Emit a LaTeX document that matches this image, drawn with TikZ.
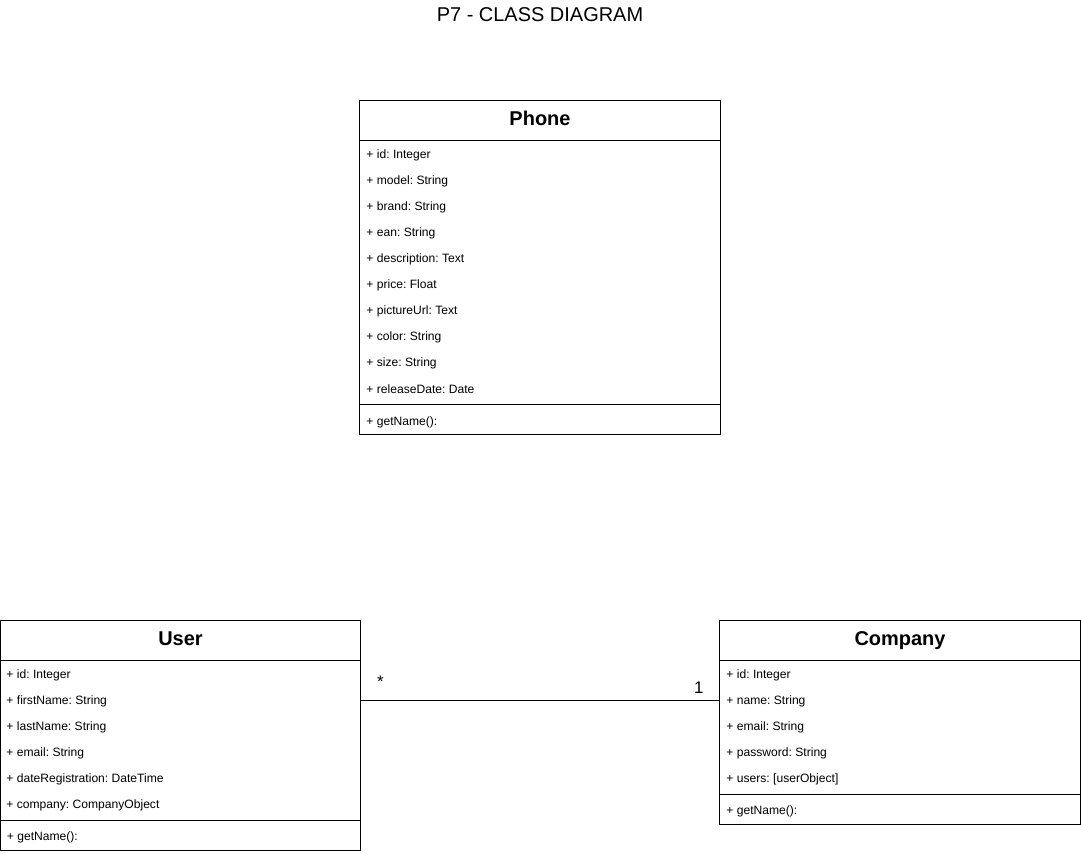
\documentclass[tikz,border=0pt]{standalone}
\usepackage{fontspec}
\setmainfont{Liberation Sans}
\usetikzlibrary{positioning}
\frenchspacing

\begin{document}
\begin{tikzpicture}[x=0.025cm,y=-0.025cm,line width=0.7pt,node distance=0.65cm,
                    classname/.style={draw,outer sep=0pt,inner sep=0pt,minimum width=9cm,
                      minimum height=1cm,text height=0.72em,text depth=0pt,
                      font=\bfseries\fontsize{14.2}{16}\selectfont},
                    compart/.style={draw,outer sep=0pt,inner sep=0pt,minimum width=9cm},
                    attr/.style={anchor=west,inner sep=0pt,font=\fontsize{8.6}{10}\selectfont},
                    mult/.style={inner sep=0pt,font=\fontsize{12}{14}\selectfont}]

  \useasboundingbox (0,0) rectangle (1081,854);
  \node[font=\fontsize{14.2}{16}\selectfont] (title) at (540,15) {P7 - CLASS DIAGRAM};

  % Phone
  \node[classname] (phone) at (540,120) {Phone};
  \node[compart,minimum height=6.6cm,below=0pt of phone] (phoneattr) {};
  \node[compart,minimum height=0.75cm,below=0pt of phoneattr] (phonemeth) {};
  \node[attr] (pid) at (366,155) {+ id: Integer};
  \node[below=of pid.west,attr] (pmodel) {+ model: String};
  \node[below=of pmodel.west,attr] (pbrand) {+ brand: String};
  \node[below=of pbrand.west,attr] (pean) {+ ean: String};
  \node[below=of pean.west,attr] (pdesc) {+ description: Text};
  \node[below=of pdesc.west,attr] (pprice) {+ price: Float};
  \node[below=of pprice.west,attr] (ppicture) {+ pictureUrl: Text};
  \node[below=of ppicture.west,attr] (pcolor) {+ color: String};
  \node[below=of pcolor.west,attr] (psize) {+ size: String};
  \node[below=of psize.west,attr] (prelease) {+ releaseDate: Date};
  \node[right=0.15cm of phonemeth.west,attr,yshift=-0.07cm] (pget) {+ getName():};

  % User
  \node[classname] (user) at (180.5,640) {User};
  \node[compart,minimum height=4cm,below=0pt of user] (userattr) {};
  \node[compart,minimum height=0.75cm,below=0pt of userattr] (usermeth) {};
  \node[attr] (uid) at (6,675) {+ id: Integer};
  \node[below=of uid.west,attr] (ufirst) {+ firstName: String};
  \node[below=of ufirst.west,attr] (ulast) {+ lastName: String};
  \node[below=of ulast.west,attr] (uemail) {+ email: String};
  \node[below=of uemail.west,attr] (udate) {+ dateRegistration: DateTime};
  \node[below=of udate.west,attr] (ucompany) {+ company: CompanyObject};
  \node[right=0.15cm of usermeth.west,attr,yshift=-0.07cm] (uget) {+ getName():};

  % Company
  \node[classname] (company) at (900,640) {Company};
  \node[compart,minimum height=3.35cm,below=0pt of company] (compattr) {};
  \node[compart,minimum height=0.75cm,below=0pt of compattr] (compmeth) {};
  \node[attr] (cid) at (726,675) {+ id: Integer};
  \node[below=of cid.west,attr] (cname) {+ name: String};
  \node[below=of cname.west,attr] (cemail) {+ email: String};
  \node[below=of cemail.west,attr] (cpassword) {+ password: String};
  \node[below=of cpassword.west,attr] (cusers) {+ users: [userObject]};
  \node[right=0.15cm of compmeth.west,attr,yshift=-0.07cm] (cget) {+ getName():};

  \draw ([yshift=0.025cm]ufirst.west -| userattr.east) -- ([yshift=0.025cm]cname.west -| compattr.west)
    node[mult,pos=0,anchor=south west,xshift=0.4cm,yshift=0.3cm] {*}
    node[mult,pos=1,anchor=south east,xshift=-0.4cm,yshift=0.15cm] {1};
\end{tikzpicture}
\end{document}
